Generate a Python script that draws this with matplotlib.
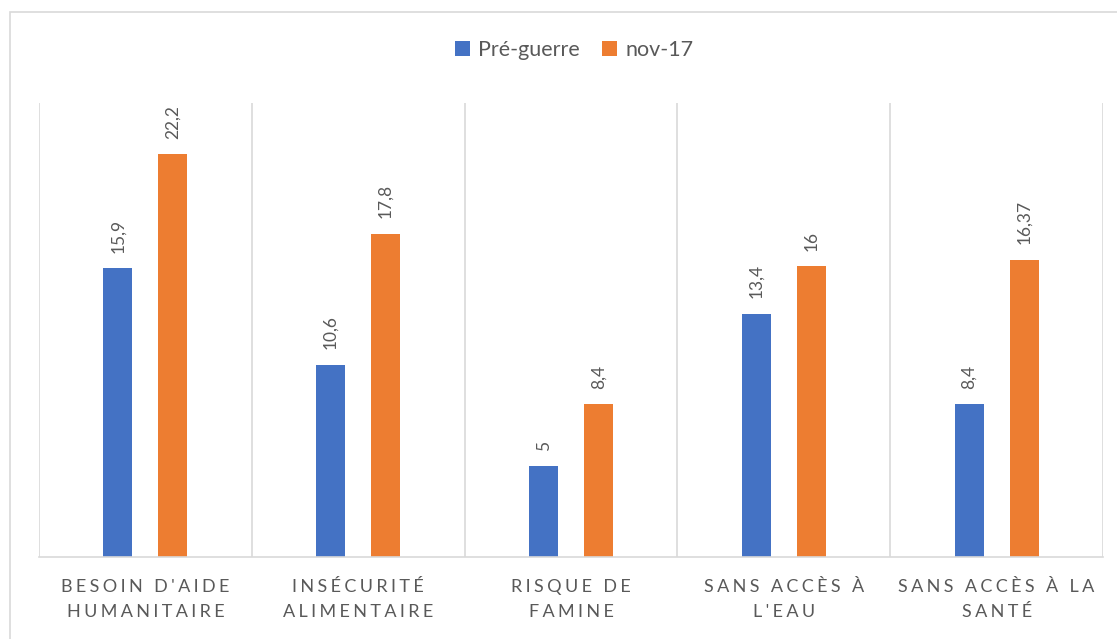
import matplotlib.pyplot as plt
from matplotlib.patches import Rectangle

categories = ["Besoin d'aide\nhumanitaire", "Insécurité\nalimentaire", "Risque de\nfamine",
              "Sans accès à\nl'eau", "Sans accès à la\nsanté"]
pre_guerre = [15.9, 10.6, 5, 13.4, 8.4]
nov_17 = [22.2, 17.8, 8.4, 16, 16.37]
series_names = ["Pré-guerre", "nov-17"]

BLUE = "#4472C4"
ORANGE = "#ED7D31"
GRID = "#D9D9D9"
TEXT = "#595959"

plt.rcParams["font.family"] = ["Lato", "DejaVu Sans"]


def spaced(label):
    # Excel draws these labels with wide letter spacing
    lines = []
    for line in label.upper().split("\n"):
        lines.append("\u2009\u200a".join(line))
    return "\n".join(lines)


def fmt(v):
    s = f"{v:g}"
    return s.replace(".", ",")


fig = plt.figure(figsize=(11.17, 6.39), dpi=100)
fig.patches.append(Rectangle((10 / 1117, -0.05), 1.2, 1 - 12 / 639 + 0.05,
                             transform=fig.transFigure, fill=False,
                             edgecolor=GRID, linewidth=1.2))
ax = fig.add_axes([39 / 1117, 82 / 639, (1103 - 39) / 1117, (557 - 103) / 639])

x = list(range(len(categories)))
w = 0.136
off = 0.129
b1 = ax.bar([i - off for i in x], pre_guerre, w, color=BLUE, label=series_names[0])
b2 = ax.bar([i + off for i in x], nov_17, w, color=ORANGE, label=series_names[1])

for bars, vals in [(b1, pre_guerre), (b2, nov_17)]:
    for bar, v in zip(bars, vals):
        ax.annotate(fmt(v), (bar.get_x() + bar.get_width() / 2, v),
                    xytext=(0, 11), textcoords="offset points",
                    rotation=90, ha="center", va="bottom",
                    fontsize=12.5, color=TEXT)

ax.set_xlim(-0.5, len(categories) - 0.5)
ax.set_ylim(0, 25)
for b in range(len(categories) + 1):
    ax.axvline(b - 0.5, color=GRID, linewidth=1.2, zorder=0)

ax.set_yticks([])
ax.set_xticks(x)
ax.set_xticklabels([spaced(c) for c in categories], fontsize=13, color=TEXT,
                   linespacing=1.65)
ax.tick_params(axis="x", length=0, pad=16)
for side in ["top", "left", "right"]:
    ax.spines[side].set_visible(False)
ax.spines["bottom"].set_color(GRID)
ax.spines["bottom"].set_linewidth(1.2)

leg = fig.legend(loc="center", bbox_to_anchor=(574 / 1117, 1 - 50 / 639), ncol=2,
                 frameon=False, fontsize=15.5, handlelength=0.7, handleheight=0.7,
                 handletextpad=0.4, columnspacing=1.0)
for t in leg.get_texts():
    t.set_color(TEXT)

fig.savefig("out.png", dpi=100)
